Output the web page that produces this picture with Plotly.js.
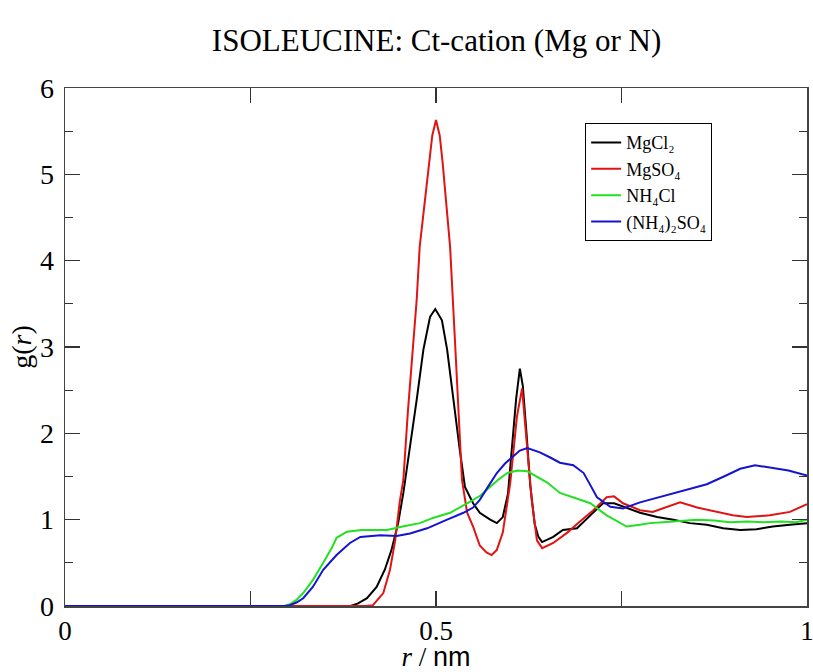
<!DOCTYPE html>
<html>
<head>
<meta charset="utf-8">
<script src="https://cdn.plot.ly/plotly-3.0.1.min.js"></script>
<style>html,body{margin:0;padding:0;background:#fff;}#chart{width:813px;height:672px;}</style>
</head>
<body>
<div id="chart"></div>
<script>
// MgCl2
const rMgCl2 = [0, 0.385, 0.395, 0.407, 0.420, 0.431, 0.440, 0.449, 0.456, 0.461, 0.467, 0.474, 0.483, 0.492, 0.499, 0.508, 0.515, 0.523, 0.532, 0.539, 0.550, 0.559, 0.573, 0.582, 0.590, 0.597, 0.603, 0.608, 0.613, 0.617, 0.622, 0.627, 0.633, 0.638, 0.643, 0.658, 0.671, 0.690, 0.708, 0.725, 0.740, 0.752, 0.775, 0.798, 0.820, 0.842, 0.865, 0.887, 0.910, 0.932, 0.954, 0.977, 1.0];
const gMgCl2 = [0, 0, 0.03, 0.09, 0.22, 0.42, 0.65, 0.96, 1.31, 1.60, 1.95, 2.39, 2.97, 3.35, 3.44, 3.31, 2.97, 2.39, 1.81, 1.38, 1.19, 1.08, 1.00, 0.96, 1.03, 1.30, 1.90, 2.40, 2.75, 2.55, 2.00, 1.40, 0.95, 0.80, 0.74, 0.80, 0.88, 0.90, 1.05, 1.19, 1.19, 1.15, 1.08, 1.03, 1.00, 0.96, 0.94, 0.90, 0.88, 0.89, 0.92, 0.94, 0.96];
// MgSO4
const rMgSO4 = [0, 0.405, 0.415, 0.429, 0.438, 0.445, 0.451, 0.456, 0.462, 0.469, 0.474, 0.478, 0.488, 0.495, 0.500, 0.505, 0.509, 0.519, 0.526, 0.530, 0.535, 0.542, 0.550, 0.559, 0.568, 0.575, 0.582, 0.590, 0.600, 0.609, 0.616, 0.622, 0.629, 0.636, 0.643, 0.658, 0.677, 0.694, 0.712, 0.730, 0.740, 0.752, 0.775, 0.792, 0.811, 0.829, 0.852, 0.879, 0.900, 0.919, 0.950, 0.977, 1.0];
const gMgSO4 = [0, 0, 0.01, 0.15, 0.42, 0.76, 1.20, 1.46, 2.24, 3.00, 3.55, 4.16, 4.94, 5.45, 5.63, 5.45, 5.13, 4.16, 3.00, 2.24, 1.46, 1.08, 0.92, 0.70, 0.62, 0.59, 0.65, 0.85, 1.42, 2.19, 2.52, 1.92, 1.23, 0.76, 0.67, 0.73, 0.85, 0.98, 1.11, 1.26, 1.27, 1.19, 1.11, 1.09, 1.15, 1.20, 1.14, 1.09, 1.05, 1.03, 1.05, 1.09, 1.18];
// NH4Cl
const rNH4Cl = [0, 0.295, 0.303, 0.312, 0.321, 0.334, 0.348, 0.360, 0.366, 0.380, 0.400, 0.420, 0.434, 0.455, 0.478, 0.496, 0.519, 0.542, 0.560, 0.573, 0.585, 0.596, 0.610, 0.623, 0.640, 0.650, 0.667, 0.685, 0.708, 0.730, 0.757, 0.775, 0.788, 0.806, 0.830, 0.852, 0.875, 0.896, 0.920, 0.941, 0.965, 0.985, 1.0];
const gNH4Cl = [0, 0, 0.02, 0.07, 0.15, 0.30, 0.50, 0.68, 0.79, 0.86, 0.88, 0.88, 0.88, 0.92, 0.96, 1.02, 1.08, 1.19, 1.28, 1.38, 1.47, 1.54, 1.57, 1.56, 1.48, 1.43, 1.31, 1.26, 1.19, 1.05, 0.92, 0.94, 0.96, 0.97, 0.99, 1.00, 0.99, 0.97, 0.98, 0.97, 0.98, 0.97, 1.00];
// (NH4)2SO4
const rNH42SO4 = [0, 0.297, 0.303, 0.312, 0.321, 0.334, 0.348, 0.366, 0.384, 0.398, 0.425, 0.447, 0.465, 0.488, 0.515, 0.537, 0.550, 0.559, 0.570, 0.582, 0.593, 0.604, 0.613, 0.623, 0.640, 0.654, 0.667, 0.685, 0.699, 0.708, 0.717, 0.735, 0.752, 0.775, 0.800, 0.820, 0.842, 0.865, 0.888, 0.910, 0.930, 0.954, 0.975, 1.0];
const gNH42SO4 = [0, 0, 0.01, 0.04, 0.09, 0.22, 0.42, 0.59, 0.73, 0.80, 0.82, 0.81, 0.84, 0.90, 1.00, 1.08, 1.14, 1.23, 1.38, 1.54, 1.65, 1.73, 1.80, 1.83, 1.78, 1.72, 1.66, 1.63, 1.54, 1.40, 1.26, 1.15, 1.13, 1.20, 1.26, 1.31, 1.36, 1.41, 1.50, 1.59, 1.63, 1.60, 1.57, 1.51];

const seriesNames = ["MgCl₂", "MgSO₄", "NH₄Cl", "(NH₄)₂SO₄"];
const seriesColors = ["#000000", "#e01414", "#22e022", "#1414d0"];
const xTickVals = [0, 0.5, 1];
const xTickText = ["0", "0.5", "1"];
const xs = [rMgCl2, rMgSO4, rNH4Cl, rNH42SO4];
const ys = [gMgCl2, gMgSO4, gNH4Cl, gNH42SO4];

const traces = xs.map((x, i) => ({
  x: x, y: ys[i], type: "scatter", mode: "lines", name: seriesNames[i],
  line: {color: seriesColors[i], width: 2}
}));

const serif = "Liberation Serif";
const layout = {
  width: 813, height: 672,
  margin: {l: 65, r: 6, t: 88, b: 66},
  paper_bgcolor: "#fff", plot_bgcolor: "#fff",
  font: {family: serif, color: "#000"},
  title: {text: "ISOLEUCINE: Ct-cation (Mg or N)", font: {family: serif, size: 31, color: "#000"}, x: 0.537, xanchor: "center", y: 0.94, yanchor: "middle"},
  showlegend: true,
  legend: {x: 0.701, y: 0.932, xanchor: "left", yanchor: "top", bgcolor: "#fff", bordercolor: "#000", borderwidth: 1,
    font: {family: serif, size: 18, color: "#000"}, tracegroupgap: 0, itemwidth: 30},
  xaxis: {
    range: [0, 1], tickvals: xTickVals, ticktext: xTickText,
    ticks: "inside", ticklen: 15, tickwidth: 1.2, tickcolor: "#333",
    minor: {tickvals: [0.25, 0.75], ticks: "inside", ticklen: 15, tickwidth: 1.2, tickcolor: "#333"},
    showline: true, linecolor: "#444", linewidth: 1.5, mirror: "ticks",
    showgrid: false, zeroline: false, ticklabeloverflow: "allow",
    tickfont: {family: serif, size: 27, color: "#000"},
    title: {text: "<i>r</i> / <span style=\"font-family:Liberation Sans\">nm</span>", font: {family: serif, size: 27, color: "#000"}, standoff: 7}
  },
  yaxis: {
    range: [0, 6], dtick: 1, tick0: 0,
    ticks: "inside", ticklen: 15, tickwidth: 1.2, tickcolor: "#333",
    minor: {dtick: 0.5, ticks: "inside", ticklen: 8, tickwidth: 1.2, tickcolor: "#333"},
    showline: true, linecolor: "#444", linewidth: 1.5, mirror: "ticks",
    showgrid: false, zeroline: false,
    tickfont: {family: serif, size: 28, color: "#000"},
    ticklabelstandoff: 4,
    title: {text: "g(<i>r</i>)", font: {family: serif, size: 28, color: "#000"}, standoff: 0}
  }
};

Plotly.newPlot("chart", traces, layout, {staticPlot: true, displayModeBar: false});
</script>
</body>
</html>
